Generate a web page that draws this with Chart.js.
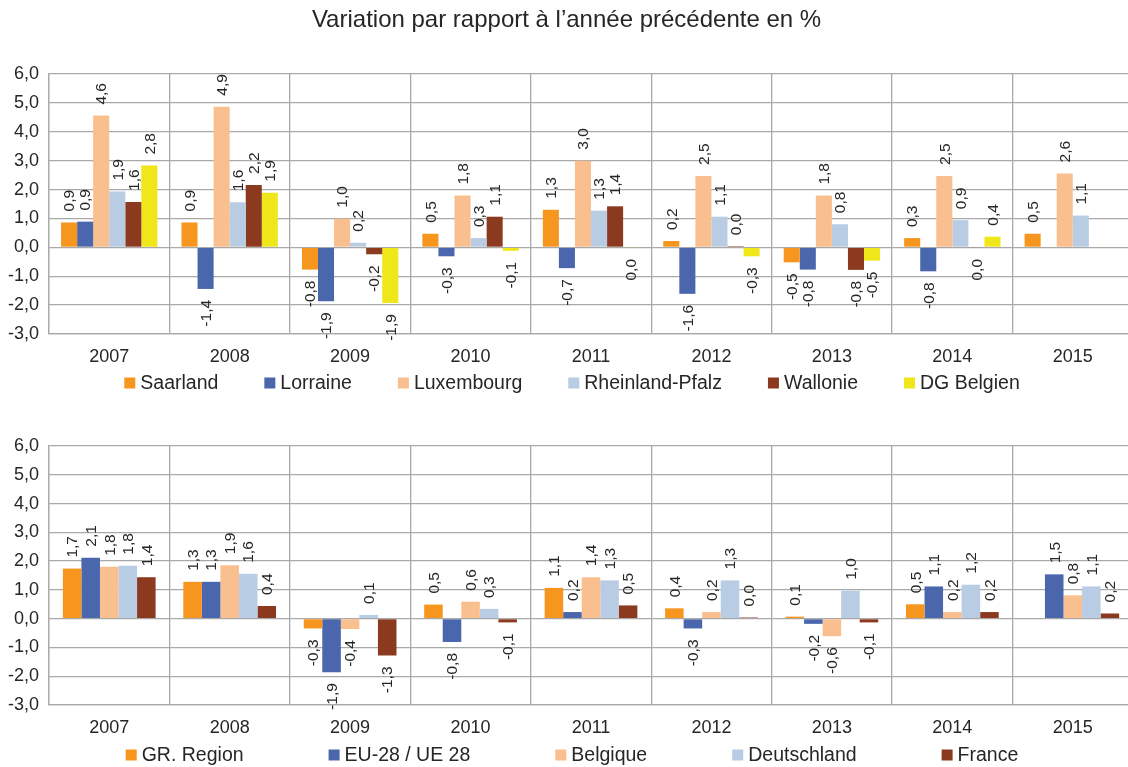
<!DOCTYPE html>
<html>
<head>
<meta charset="utf-8">
<script src="https://cdn.jsdelivr.net/npm/chart.js@4/dist/chart.umd.min.js"></script>
<style>
  html, body { margin: 0; padding: 0; background: #fff; overflow: hidden; }
  #wrap { width: 1128px; height: 767px; overflow: hidden; position: relative; }
  canvas { display: block; position: absolute; left: 0; }
</style>
</head>
<body>
<div id="wrap">
  <canvas id="top" width="1140" height="400" style="top:0"></canvas>
  <canvas id="bottom" width="1140" height="367" style="top:400px"></canvas>
</div>
<script>
const years = ['2007', '2008', '2009', '2010', '2011', '2012', '2013', '2014', '2015'];

// top chart: regions
const saarland       = [0.86, 0.86, -0.77, 0.47, 1.30, 0.22, -0.52, 0.32, 0.47];
const lorraine       = [0.89, -1.44, -1.87, -0.31, -0.72, -1.61, -0.77, -0.83, null];
const luxembourg     = [4.56, 4.87, 0.99, 1.79, 3.00, 2.47, 1.79, 2.47, 2.56];
const rheinlandPfalz = [1.93, 1.56, 0.16, 0.32, 1.27, 1.06, 0.80, 0.94, 1.10];
const wallonie       = [1.57, 2.16, -0.24, 1.06, 1.42, 0.04, -0.78, -0.02, null];
const dgBelgien      = [2.83, 1.89, -1.93, -0.12, -0.02, -0.31, -0.46, 0.37, null];

// bottom chart: countries
const grRegion    = [1.74, 1.28, -0.34, 0.49, 1.07, 0.36, 0.07, 0.50, null];
const euUe28      = [2.12, 1.28, -1.86, -0.81, 0.23, -0.34, -0.18, 1.12, 1.54];
const belgique    = [1.80, 1.86, -0.36, 0.59, 1.44, 0.23, -0.61, 0.23, 0.81];
const deutschland = [1.84, 1.56, 0.13, 0.34, 1.33, 1.33, 0.97, 1.18, 1.12];
const france      = [1.44, 0.44, -1.28, -0.13, 0.46, 0.04, -0.13, 0.23, 0.18];

const yTicks = [-3, -2, -1, 0, 1, 2, 3, 4, 5, 6];

const ORANGE = '#F7961E', BLUE = '#4A66AC', PEACH = '#FABF8F',
      LIGHTBLUE = '#B8CCE4', BROWN = '#8B3A1F', YELLOW = '#F0E71B';
const TEXT = '#262626';
const GRID = '#A9A9A9';
const FONT = '"Liberation Sans", Arial, sans-serif';

function fmt(v) {
  let s = (Math.round(v * 10) / 10).toFixed(1);
  if (s === '-0.0') s = '0.0';
  return s.replace('.', ',');
}

// rotated value labels, above positive bars and below negative ones
const barLabels = {
  id: 'barLabels',
  afterDatasetsDraw(chart) {
    const ctx = chart.ctx;
    ctx.save();
    ctx.font = '15.5px ' + FONT;
    ctx.fillStyle = TEXT;
    ctx.textBaseline = 'middle';
    chart.data.datasets.forEach((ds, i) => {
      chart.getDatasetMeta(i).data.forEach((bar, j) => {
        const v = ds.data[j];
        if (v === null) return;
        const neg = v < 0;
        const y = neg ? Math.max(bar.y, bar.base) + 11 : Math.min(bar.y, bar.base) - 11;
        ctx.save();
        ctx.translate(bar.x, y);
        ctx.rotate(-Math.PI / 2);
        ctx.textAlign = neg ? 'right' : 'left';
        ctx.fillText(fmt(v), 0, 1);
        ctx.restore();
      });
    });
    ctx.restore();
  }
};

// legend drawn in one row, centred, with Excel-like spacing
const rowLegend = {
  id: 'rowLegend',
  afterDraw(chart, args, opts) {
    const ctx = chart.ctx;
    ctx.save();
    ctx.font = '19.5px ' + FONT;
    ctx.textBaseline = 'middle';
    const items = chart.data.datasets.map(d => ({
      text: d.label, color: d.backgroundColor, w: 16 + ctx.measureText(d.label).width
    }));
    const total = items.reduce((a, it) => a + it.w, 0) + opts.gap * (items.length - 1);
    let x = chart.width / 2 - total / 2 + 2;
    items.forEach(it => {
      ctx.fillStyle = it.color;
      ctx.fillRect(x, opts.y - 5.5, 11, 11);
      ctx.fillStyle = TEXT;
      ctx.fillText(it.text, x + 16, opts.y + 1);
      x += it.w + opts.gap;
    });
    ctx.restore();
  }
};

function makeChart(id, series, catPct, extra) {
  return new Chart(document.getElementById(id), {
    type: 'bar',
    data: {
      labels: years,
      datasets: series.map(s => ({
        label: s[0], data: s[1], backgroundColor: s[2],
        categoryPercentage: catPct, barPercentage: 1.0
      }))
    },
    options: {
      responsive: false,
      animation: false,
      events: [],
      layout: { padding: extra.padding },
      plugins: {
        legend: { display: false },
        tooltip: { enabled: false },
        title: extra.title,
        rowLegend: extra.legend
      },
      scales: {
        x: {
          grid: { color: GRID, lineWidth: 1.3, drawTicks: false, offset: true },
          border: { color: GRID, width: 1.3 },
          ticks: { color: TEXT, font: { family: FONT, size: 18 }, padding: 12, maxRotation: 0 },
          afterFit(s) { s.height = 34; }
        },
        y: {
          min: -3, max: 6,
          afterBuildTicks(s) { s.ticks = yTicks.map(v => ({ value: v })); },
          grid: { color: GRID, lineWidth: 1.3, drawTicks: false },
          border: { color: GRID, width: 1.3 },
          ticks: {
            color: TEXT, font: { family: FONT, size: 18 }, padding: 10,
            callback: v => v.toFixed(1).replace('.', ',')
          },
          afterFit(s) { s.width = 49; }
        }
      }
    },
    plugins: [barLabels, rowLegend]
  });
}

makeChart('top', [
  ['Saarland', saarland, ORANGE],
  ['Lorraine', lorraine, BLUE],
  ['Luxembourg', luxembourg, PEACH],
  ['Rheinland-Pfalz', rheinlandPfalz, LIGHTBLUE],
  ['Wallonie', wallonie, BROWN],
  ['DG Belgien', dgBelgien, YELLOW]
], 0.8, {
  padding: { left: 0, right: 7, top: 0, bottom: 32 },
  title: {
    display: true,
    text: 'Variation par rapport à l\u2019année précédente en %',
    color: TEXT,
    font: { family: FONT, size: 24, weight: 'normal' },
    padding: { top: 6, bottom: 39.2 }
  },
  legend: { y: 383, gap: 46 }
});

makeChart('bottom', [
  ['GR. Region', grRegion, ORANGE],
  ['EU-28 / UE 28', euUe28, BLUE],
  ['Belgique', belgique, PEACH],
  ['Deutschland', deutschland, LIGHTBLUE],
  ['France', france, BROWN]
], 0.77, {
  padding: { left: 0, right: 7, top: 46, bottom: 28 },
  title: { display: false },
  legend: { y: 355, gap: 85 }
});
</script>
</body>
</html>
